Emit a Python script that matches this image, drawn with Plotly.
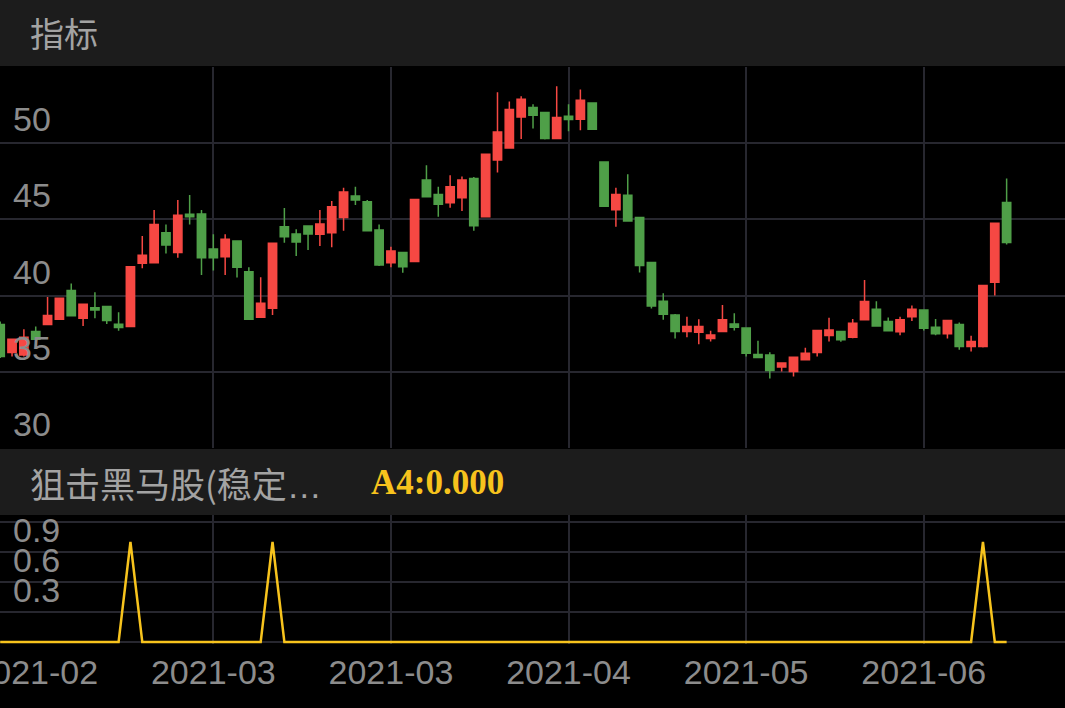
import plotly.graph_objects as go

W, H = 1065, 708

# ---- data ----
bar_index = list(range(86))
open_ = [38.1, 36.27, 36.1, 37.64, 38.1, 38.45, 40.33, 38.52, 39.2, 39.28,
         38.12, 37.97, 42.12, 42.16, 44.13, 42.82, 45.33, 45.35, 43.06, 42.55,
         43.58, 41.57, 38.58, 39.17, 44.52, 44.04, 44.56, 44.02, 44.13, 45.13,
         46.53, 46.16, 44.3, 42.16, 42.82, 42.23, 47.58, 46.64, 46.09, 46.42,
         47.69, 45.17, 48.89, 49.69, 51.72, 52.34, 52.01, 50.31, 51.77, 51.57,
         52.64, 48.76, 45.63, 46.59, 45.13, 42.18, 39.63, 38.73, 37.64, 37.6,
         37.18, 37.64, 38.14, 37.88, 36.13, 36.11, 35.31, 35.02, 35.79, 36.27,
         37.38, 37.64, 37.27, 38.41, 39.1, 38.3, 37.62, 38.62, 39.06, 37.93,
         37.49, 38.1, 36.66, 36.66, 40.87, 46.11]
high = [38.3, 37.14, 37.8, 37.97, 39.9, 39.85, 40.8, 39.45, 40.22, 39.3,
        38.9, 41.9, 43.91, 45.61, 44.67, 46.27, 46.6, 45.61, 44.02, 44.02,
        43.6, 41.86, 41.2, 43.43, 45.74, 44.35, 44.56, 45.61, 46.2, 47.07,
        47.14, 46.27, 44.67, 43.21, 42.86, 46.31, 48.56, 47.14, 47.9, 47.82,
        47.78, 49.28, 53.34, 52.73, 53.08, 52.55, 52.05, 53.73, 52.55, 53.52,
        52.66, 48.76, 47.07, 47.97, 45.13, 42.2, 40.15, 38.8, 38.62, 38.45,
        37.69, 39.39, 38.84, 37.9, 37.03, 36.29, 35.57, 35.98, 36.57, 37.71,
        38.54, 37.66, 38.47, 41.03, 39.63, 38.56, 38.62, 39.35, 39.06, 38.47,
        38.38, 38.23, 37.36, 40.66, 44.74, 47.69]
low = [35.9, 36.0, 36.0, 37.1, 38.05, 38.4, 38.65, 38.0, 38.52, 38.14,
       37.7, 37.97, 41.79, 42.1, 42.77, 42.49, 44.67, 41.35, 41.64, 41.35,
       41.18, 38.4, 38.58, 38.73, 43.47, 42.6, 43.0, 43.25, 43.17, 44.26,
       45.94, 44.26, 41.94, 41.86, 41.5, 42.2, 46.48, 45.17, 45.76, 45.55,
       44.26, 45.17, 48.08, 49.69, 50.28, 50.96, 50.25, 50.31, 50.79, 50.85,
       50.9, 45.85, 44.52, 44.89, 41.51, 39.15, 38.41, 37.18, 37.27, 36.81,
       36.99, 37.64, 37.71, 36.0, 35.94, 34.56, 35.02, 34.69, 35.74, 36.0,
       36.99, 36.97, 37.2, 38.41, 38.0, 37.69, 37.4, 38.34, 37.71, 37.4,
       37.18, 36.44, 36.33, 36.6, 40.0, 43.36]
close = [36.0, 37.14, 37.27, 37.14, 38.7, 39.83, 38.67, 39.43, 39.06, 38.36,
         37.9, 41.9, 42.64, 44.67, 43.32, 45.28, 45.17, 42.49, 42.49, 43.69,
         41.86, 38.45, 39.5, 43.43, 43.86, 43.52, 44.04, 44.69, 45.83, 46.79,
         46.27, 44.26, 42.01, 42.93, 41.9, 46.31, 46.48, 46.0, 47.14, 47.58,
         44.59, 49.28, 50.74, 52.21, 52.88, 51.83, 50.31, 51.68, 51.55, 52.82,
         50.92, 45.87, 46.64, 44.89, 41.97, 39.32, 38.78, 37.64, 37.97, 37.97,
         37.42, 38.41, 37.93, 36.22, 35.94, 35.09, 35.57, 35.96, 36.22, 37.71,
         37.75, 37.1, 38.19, 39.61, 38.01, 37.69, 38.41, 39.1, 37.86, 37.49,
         38.36, 36.66, 36.99, 40.66, 44.74, 43.49]
signal_a4 = [0, 0, 0, 0, 0, 0, 0, 0, 0, 0,
             0, 1, 0, 0, 0, 0, 0, 0, 0, 0,
             0, 0, 0, 1, 0, 0, 0, 0, 0, 0,
             0, 0, 0, 0, 0, 0, 0, 0, 0, 0,
             0, 0, 0, 0, 0, 0, 0, 0, 0, 0,
             0, 0, 0, 0, 0, 0, 0, 0, 0, 0,
             0, 0, 0, 0, 0, 0, 0, 0, 0, 0,
             0, 0, 0, 0, 0, 0, 0, 0, 0, 0,
             0, 0, 0, 1, 0, 0]
x_tick_pos = [3, 18, 33, 48, 63, 78]
x_tick_text = ["2021-02", "2021-03", "2021-03", "2021-04", "2021-05", "2021-06"]
price_ticks = [30, 35, 40, 45, 50, 55]
price_tick_text = ["30", "35", "40", "45", "50", ""]
ind_ticks = [0, 0.3, 0.6, 0.9, 1.2]
ind_tick_text = ["", "0.3", "0.6", "0.9", ""]

# ---- styles ----
RED = "#f64843"
GREEN = "#4f9f48"
GOLD = "#f7c31d"
GRID = "#27272f"
HEADER_BG = "#1c1c1c"
LABEL = "#8c8c8c"
HEAD_TXT = "#a3a3a3"
LATIN = "Liberation Sans, Arial, Helvetica, sans-serif"
CJK = "Noto Sans CJK SC, sans-serif"


def py(px):
    return 1 - px / H


fig = go.Figure()
fig.add_trace(go.Candlestick(
    x=bar_index, open=open_, high=high, low=low, close=close,
    increasing=dict(line=dict(color=RED, width=1.5), fillcolor=RED),
    decreasing=dict(line=dict(color=GREEN, width=1.5), fillcolor=GREEN),
    xaxis="x", yaxis="y", showlegend=False, hoverinfo="skip",
))
fig.add_trace(go.Scatter(
    x=bar_index, y=signal_a4, mode="lines",
    line=dict(color=GOLD, width=2.5),
    xaxis="x2", yaxis="y2", showlegend=False, hoverinfo="skip",
))
# date labels: a text row on the same x scale, clipped at the chart edge
fig.add_trace(go.Scatter(
    x=x_tick_pos, y=[0.5] * len(x_tick_pos), mode="text", text=x_tick_text,
    textposition="middle center", cliponaxis=True,
    textfont=dict(family=LATIN, size=34, color=LABEL),
    xaxis="x3", yaxis="y3", showlegend=False, hoverinfo="skip",
))

xrange = [-0.017, 89.93]
common_x = dict(range=xrange, tickvals=x_tick_pos, showgrid=True, gridcolor=GRID,
                gridwidth=2, zeroline=False, showline=False, fixedrange=True,
                showticklabels=False, ticks="")

fig.update_layout(
    width=W, height=H, autosize=False,
    margin=dict(l=0, r=0, t=0, b=0),
    paper_bgcolor="#000000", plot_bgcolor="#000000",
    boxgap=0.3, boxgroupgap=0,
    xaxis=dict(**common_x, domain=[0, 1], anchor="y",
               rangeslider=dict(visible=False)),
    yaxis=dict(domain=[py(448), py(67)], range=[30, 55], tickvals=price_ticks,
               ticktext=price_tick_text, showgrid=True, gridcolor=GRID, gridwidth=2,
               zeroline=False, showline=False, anchor="x", fixedrange=True,
               ticklabelposition="inside", ticklabelshift=-24, ticklabelstandoff=10,
               tickfont=dict(family=LATIN, size=34, color=LABEL)),
    xaxis2=dict(**common_x, domain=[0, 1], anchor="y2"),
    # panel reaches up under the header bar so the top label fits in its domain
    yaxis2=dict(domain=[py(644), py(505)], range=[-0.02, 1.37], tickvals=ind_ticks,
                ticktext=ind_tick_text, showgrid=True, gridcolor=GRID, gridwidth=2,
                zeroline=False, showline=False, anchor="x2", fixedrange=True,
                ticklabelposition="inside", ticklabelshift=-22, ticklabelstandoff=10,
                tickfont=dict(family=LATIN, size=34, color=LABEL)),
    xaxis3=dict(range=xrange, domain=[0, 1], anchor="y3", visible=False, fixedrange=True),
    yaxis3=dict(domain=[py(702), py(648)], range=[0, 1], anchor="x3", visible=False,
                fixedrange=True),
    shapes=[
        dict(type="rect", xref="paper", yref="paper", x0=0, x1=1, y0=py(66), y1=1,
             fillcolor=HEADER_BG, line=dict(width=0), layer="above"),
        dict(type="rect", xref="paper", yref="paper", x0=0, x1=1, y0=py(515), y1=py(449),
             fillcolor=HEADER_BG, line=dict(width=0), layer="above"),
    ],
    annotations=[
        dict(text="指标", xref="paper", yref="paper", x=28 / W, y=py(33),
             xanchor="left", yanchor="middle", showarrow=False,
             font=dict(family=CJK, size=34, color=HEAD_TXT)),
        dict(text='狙击黑马股(稳定<span style="font-family:Liberation Sans">…</span>',
             xref="paper", yref="paper", x=28 / W, y=py(482),
             xanchor="left", yanchor="middle", showarrow=False,
             font=dict(family=CJK, size=35, color=HEAD_TXT)),
        dict(text="<b>A4:0.000</b>", xref="paper", yref="paper", x=369 / W, y=py(482),
             xanchor="left", yanchor="middle", showarrow=False,
             font=dict(family="Liberation Serif, Times New Roman, serif", size=35, color=GOLD)),
    ],
)

fig.write_html(
    "out.html",
    config={"displayModeBar": False, "staticPlot": True},
    post_script="document.body.style.margin='0';document.body.style.background='#000';",
)
